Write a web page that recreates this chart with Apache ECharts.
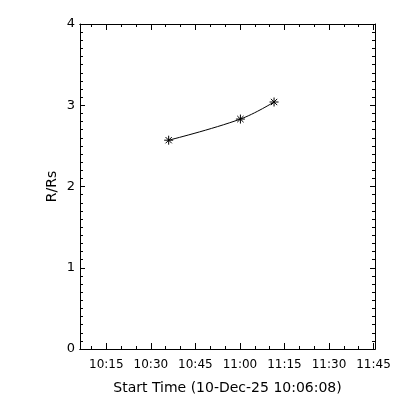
<!DOCTYPE html>
<html>
<head>
<meta charset="utf-8">
<script src="https://cdn.jsdelivr.net/npm/echarts@6/dist/echarts.min.js"></script>
<style>html,body{margin:0;padding:0;background:#fff}#c{width:400px;height:400px}</style>
</head>
<body>
<div id="c"></div>
<script>
// Data
var startTime = '10:06:08';
var endTime = '11:45:30';
var times = ['10:36:00', '11:00:10', '11:11:30'];
var radius = [2.57, 2.83, 3.04];
var majorTickLabels = ['10:15', '10:30', '10:45', '11:00', '11:15', '11:30', '11:45'];
var minorTickLabels = ['10:10', '10:20', '10:25', '10:35', '10:40', '10:50', '10:55', '11:05', '11:10', '11:20', '11:25', '11:35', '11:40'];
var yTicks = [0, 1, 2, 3, 4];
var xTitle = 'Start Time (10-Dec-25 10:06:08)';
var yTitle = 'R/Rs';

function toMin(s) {
  var p = s.split(':').map(Number);
  return p[0] * 60 + p[1] + (p[2] || 0) / 60;
}
function fmt(v) {
  var h = Math.floor(v / 60 + 1e-9), m = Math.round(v - h * 60);
  return h + ':' + (m < 10 ? '0' : '') + m;
}
var xmin = toMin(startTime), xmax = toMin(endTime);
var majors = majorTickLabels.map(toMin);
var minors = minorTickLabels.map(toMin);
var pts = times.map(function (t, i) { return [toMin(t), radius[i]]; });

var font = 'DejaVu Sans';
var lineStyle = { color: '#000', width: 1 };
function xAx(pos, ticks, len, labels, name) {
  return {
    type: 'value', position: pos, min: xmin, max: xmax,
    axisLine: { show: true, onZero: false, lineStyle: lineStyle },
    axisTick: { show: true, inside: true, length: len, customValues: ticks, lineStyle: lineStyle },
    axisLabel: labels ? { show: true, customValues: ticks, formatter: fmt, color: '#000', fontFamily: font, fontSize: 12, margin: 10 } : { show: false },
    splitLine: { show: false },
    name: name || '', nameLocation: 'middle', nameGap: 32, nameMoveOverlap: false,
    nameTextStyle: { color: '#000', fontFamily: font, fontSize: 14 }
  };
}
function yAx(pos, labels, name) {
  return {
    type: 'value', position: pos, min: yTicks[0], max: yTicks[yTicks.length - 1], interval: 1,
    axisLine: { show: true, onZero: false, lineStyle: lineStyle },
    axisTick: { show: true, inside: true, length: 5, lineStyle: lineStyle },
    minorTick: { show: true, splitNumber: 10, length: 3, lineStyle: lineStyle },
    axisLabel: labels ? { show: true, color: '#000', fontFamily: font, fontSize: 13, margin: 5 } : { show: false },
    splitLine: { show: false },
    name: name || '', nameLocation: 'middle', nameGap: 21, nameMoveOverlap: false,
    nameTextStyle: { color: '#000', fontFamily: font, fontSize: 14 }
  };
}

var chart = echarts.init(document.getElementById('c'), null, { renderer: 'canvas' });
chart.setOption({
  animation: false,
  backgroundColor: '#fff',
  grid: { left: 80, right: 25, top: 24, bottom: 50 },
  xAxis: [
    xAx('bottom', majors, 6, true, xTitle),
    xAx('bottom', minors, 3, false),
    xAx('top', majors, 6, false),
    xAx('top', minors, 3, false)
  ],
  yAxis: [yAx('left', true, yTitle), yAx('right', false)],
  series: [{
    type: 'line', xAxisIndex: 0, yAxisIndex: 0,
    data: pts, smooth: 0.4,
    lineStyle: { color: '#000', width: 1 },
    symbol: 'path://M0,5L10,5M5,0L5,10M1.5,1.5L8.5,8.5M8.5,1.5L1.5,8.5',
    symbolSize: 9, showSymbol: true,
    itemStyle: { color: 'rgba(0,0,0,0)', borderColor: '#000', borderWidth: 1 }
  }]
});
</script>
</body>
</html>
